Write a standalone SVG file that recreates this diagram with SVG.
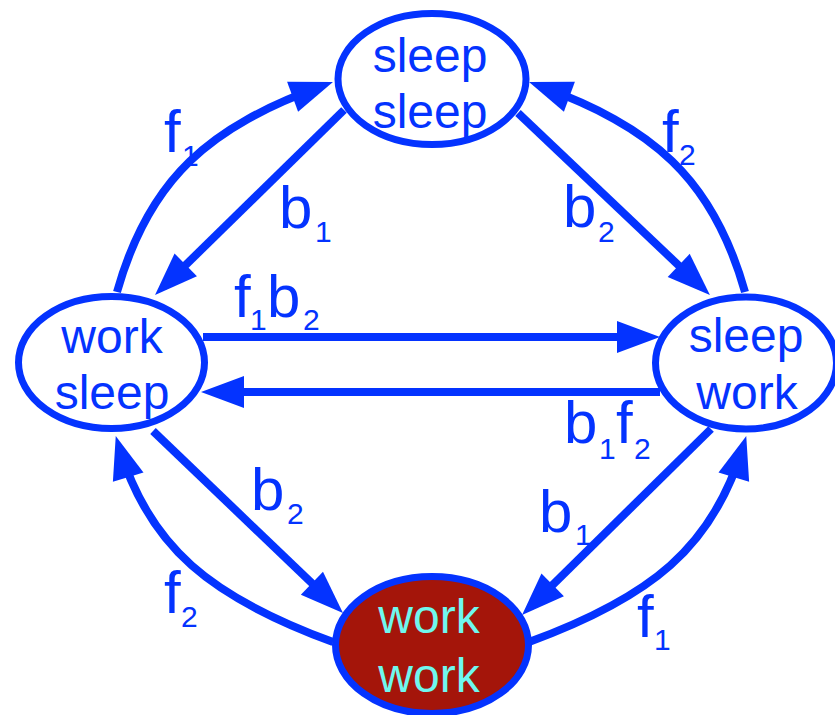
<svg xmlns="http://www.w3.org/2000/svg" width="835" height="715" viewBox="0 0 835 715">
<style>
.node{fill:#ffffff;stroke:#0433ff;stroke-width:7}
.hot{fill:#a4150a;stroke:#0433ff;stroke-width:7}
.nt{font-family:"Liberation Sans",Arial,sans-serif;font-size:48px;fill:#0433ff;text-anchor:middle}
.ht{font-family:"Liberation Sans",Arial,sans-serif;font-size:48px;fill:#6ff7ee;text-anchor:middle}
.edge{fill:none;stroke:#0433ff;stroke-width:8;marker-end:url(#ah)}
.lb{font-family:"Liberation Sans",Arial,sans-serif;font-size:60px;fill:#0433ff}
.sb{font-size:30px}
</style>
<defs>
<marker id="ah" markerUnits="userSpaceOnUse" markerWidth="44" markerHeight="32" refX="31" refY="16" orient="auto" overflow="visible">
<path d="M0,0 L43,16 L0,32 z" fill="#0433ff"/>
</marker>
</defs>
<rect width="835" height="715" fill="#ffffff"/>
<g id="n_sleep_sleep">
<ellipse class="node" cx="432" cy="79" rx="94" ry="65.5"/>
<text class="nt" x="430" y="72">sleep</text>
<text class="nt" x="430" y="128">sleep</text>
</g>
<g id="n_work_sleep">
<ellipse class="node" cx="111.5" cy="362.5" rx="93" ry="66"/>
<text class="nt" x="112" y="353">work</text>
<text class="nt" x="112" y="409">sleep</text>
</g>
<g id="n_sleep_work">
<ellipse class="node" cx="746" cy="363" rx="90.5" ry="66"/>
<text class="nt" x="746" y="352">sleep</text>
<text class="nt" x="747" y="409">work</text>
</g>
<g id="n_work_work">
<ellipse class="hot" cx="432" cy="645" rx="96.5" ry="68.5"/>
<text class="ht" x="429" y="633">work</text>
<text class="ht" x="429" y="692">work</text>
</g>
<g id="connectors">
<path class="edge" d="M117,292 C149.4,176.8 210.9,126.7 321.7,86.1"/>
<path class="edge" d="M745,292 C712.6,176.8 651.1,126.7 540.3,86.1"/>
<path class="edge" d="M344,110 L163.6,286.6"/>
<path class="edge" d="M518,113 L701.2,286.8"/>
<path class="edge" d="M203,337 L648,337"/>
<path class="edge" d="M660,392 L213,392"/>
<path class="edge" d="M153,431 L334.3,604.7"/>
<path class="edge" d="M711,429 L530.6,606.6"/>
<path class="edge" d="M333,642 C210.9,597.3 149.4,547.2 119.2,447.5"/>
<path class="edge" d="M529,642 C651.1,597.3 712.6,547.2 742.8,447.5"/>
</g>
<g id="labels">
<text class="lb" x="164" y="152">f<tspan class="sb" x="182" y="166">1</tspan></text>
<text class="lb" x="279" y="228">b<tspan class="sb" x="315" y="242">1</tspan></text>
<text class="lb" x="563" y="227">b<tspan class="sb" x="598" y="242">2</tspan></text>
<text class="lb" x="662" y="152">f<tspan class="sb" x="679" y="165">2</tspan></text>
<text class="lb" x="234" y="317">f<tspan class="sb" x="250" y="330">1</tspan><tspan x="267" y="317">b</tspan><tspan class="sb" x="303" y="330">2</tspan></text>
<text class="lb" x="564" y="443">b<tspan class="sb" x="599" y="459">1</tspan><tspan x="616" y="443">f</tspan><tspan class="sb" x="634" y="459">2</tspan></text>
<text class="lb" x="251" y="510">b<tspan class="sb" x="287" y="524">2</tspan></text>
<text class="lb" x="164" y="613">f<tspan class="sb" x="181" y="627">2</tspan></text>
<text class="lb" x="539" y="532">b<tspan class="sb" x="575" y="545">1</tspan></text>
<text class="lb" x="637" y="637">f<tspan class="sb" x="654" y="650">1</tspan></text>
</g>
</svg>
